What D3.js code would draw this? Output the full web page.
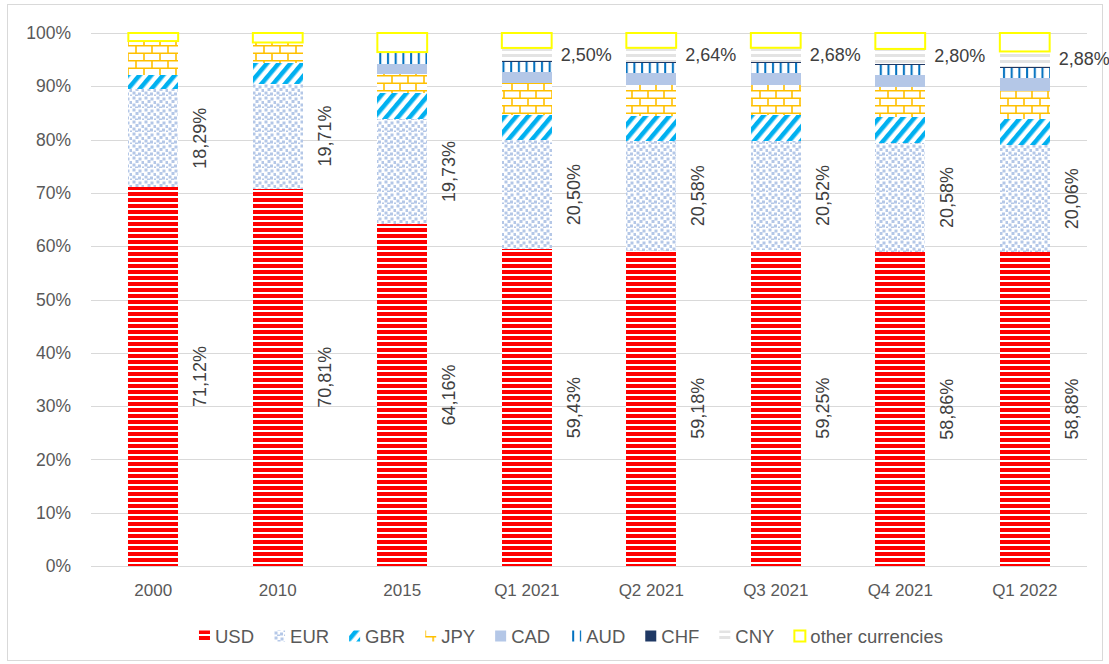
<!DOCTYPE html>
<html>
<head>
<meta charset="utf-8">
<script src="https://cdn.jsdelivr.net/npm/d3@7"></script>
<style>
  html, body { margin: 0; padding: 0; background: #ffffff; }
  svg { display: block; font-family: "Liberation Sans", Arial, sans-serif; }
</style>
</head>
<body>
<svg id="chart" width="1109" height="664"></svg>
<script>
// ---------- DATA ----------
const categories = ["2000", "2010", "2015", "Q1 2021", "Q2 2021", "Q3 2021", "Q4 2021", "Q1 2022"];
const seriesNames = ["USD", "EUR", "GBR", "JPY", "CAD", "AUD", "CHF", "CNY", "other currencies"];
const usd   = [71.12, 70.81, 64.16, 59.43, 59.18, 59.25, 58.86, 58.88];
const eur   = [18.29, 19.71, 19.73, 20.50, 20.58, 20.52, 20.58, 20.06];
const gbr   = [2.75, 3.90, 4.88, 4.70, 4.75, 4.80, 4.80, 4.95];
const jpy   = [6.06, 3.70, 3.62, 5.90, 5.80, 5.70, 5.55, 5.20];
const cad   = [0, 0, 1.85, 2.20, 2.25, 2.25, 2.40, 2.40];
const aud   = [0, 0, 1.98, 1.80, 1.85, 1.85, 1.85, 2.00];
const chf   = [0.27, 0.10, 0.20, 0.17, 0.17, 0.18, 0.17, 0.17];
const cny   = [0, 0, 0, 2.50, 2.64, 2.68, 2.80, 2.88];
const other = [1.51, 1.78, 3.58, 2.80, 2.78, 2.77, 2.99, 3.46];
const yTicks = [0, 10, 20, 30, 40, 50, 60, 70, 80, 90, 100];
const labelledSeries = ["USD", "EUR"];      // vertical labels
const labelledSideSeries = ["CNY"];         // horizontal labels (where > 0)

const seriesValues = [usd, eur, gbr, jpy, cad, aud, chf, cny, other];
const rows = categories.map((c, i) => {
  const r = { cat: c };
  seriesNames.forEach((s, k) => r[s] = seriesValues[k][i]);
  return r;
});

// ---------- SETUP ----------
const svg = d3.select("#chart");
const plot = { left: 91, right: 1087, top: 33, bottom: 566 };

svg.append("rect").attr("x", 7.5).attr("y", 4.5).attr("width", 1095).attr("height", 656)
  .attr("fill", "#fff").attr("stroke", "#d9d9d9").attr("stroke-width", 1);

const x = d3.scaleBand().domain(categories).range([plot.left, plot.right])
  .paddingInner(0.6).paddingOuter(0.3);
const y = d3.scaleLinear().domain([0, 100]).range([plot.bottom, plot.top]);

// ---------- PATTERNS ----------
const defs = svg.append("defs");
function pat(id, w, h) {
  const p = defs.append("pattern").attr("id", id).attr("patternUnits", "userSpaceOnUse")
    .attr("width", w).attr("height", h);
  p.append("rect").attr("width", w).attr("height", h).attr("fill", "#fff");
  return p;
}
// USD red horizontal stripes
let p = pat("pUSD", 6, 6);
p.append("rect").attr("x", 0).attr("y", 0).attr("width", 6).attr("height", 4).attr("fill", "#ff0000");
// EUR confetti
p = pat("pEUR", 12, 12);
[[0.5,0.5],[6.5,1.5],[3.5,4],[9.5,5],[0.5,7.5],[6,8.5],[3,10.5],[10,10.5]].forEach(([a,b]) =>
  p.append("rect").attr("x", a).attr("y", b).attr("width", 3).attr("height", 3).attr("fill", "#b4c7e7"));
// GBR wide diagonal
p = defs.append("pattern").attr("id", "pGBR").attr("patternUnits", "userSpaceOnUse")
  .attr("width", 9).attr("height", 9).attr("patternTransform", "rotate(40)");
p.append("rect").attr("width", 9).attr("height", 9).attr("fill", "#fff");
p.append("rect").attr("x", 0).attr("y", 0).attr("width", 4.5).attr("height", 9).attr("fill", "#00b0f0");
// JPY brick
p = pat("pJPY", 16, 15);
p.append("path").attr("d", "M0,0.75H16M0,8.25H16M8,0.75V8.25M0,8.25V15M16,8.25V15")
  .attr("stroke", "#ffc000").attr("stroke-width", 1.6).attr("fill", "none");
// AUD vertical lines
p = pat("pAUD", 7.7, 8);
p.append("rect").attr("x", 2).attr("y", 0).attr("width", 2).attr("height", 8).attr("fill", "#0070c0");
// CNY light horizontal lines
p = pat("pCNY", 6, 6);
p.append("rect").attr("x", 0).attr("y", 0).attr("width", 6).attr("height", 3).attr("fill", "#e3e3e3");

const fills = {
  "USD": "url(#pUSD)", "EUR": "url(#pEUR)", "GBR": "url(#pGBR)", "JPY": "url(#pJPY)",
  "CAD": "#b4c7e7", "AUD": "url(#pAUD)", "CHF": "#1f3864", "CNY": "url(#pCNY)", "other currencies": "#ffffff"
};

// ---------- GRID ----------
const grid = svg.append("g");
grid.selectAll("line").data(yTicks).join("line")
  .attr("x1", plot.left).attr("x2", plot.right)
  .attr("y1", d => Math.round(y(d)) + 0.5).attr("y2", d => Math.round(y(d)) + 0.5)
  .attr("stroke", "#d9d9d9").attr("stroke-width", 1);

// Y axis labels
const yAxis = d3.axisLeft(y).tickValues(yTicks).tickFormat(d => d + "%").tickSize(0).tickPadding(0);
const gy = svg.append("g").attr("transform", "translate(71,0)").call(yAxis);
gy.select(".domain").remove();
gy.selectAll("text").attr("font-size", 17.5).attr("fill", "#595959")
  .attr("font-family", "Liberation Sans, Arial, sans-serif");

// X axis labels
const xAxis = d3.axisBottom(x).tickSize(0).tickPadding(0);
const gx = svg.append("g").attr("transform", "translate(0,584)").call(xAxis);
gx.select(".domain").remove();
gx.selectAll("text").attr("font-size", 17).attr("fill", "#595959")
  .attr("font-family", "Liberation Sans, Arial, sans-serif");

// ---------- BARS ----------
const stacked = d3.stack().keys(seriesNames)(rows);
const bars = svg.append("g");
stacked.forEach(layer => {
  const key = layer.key;
  bars.append("g").selectAll("rect").data(layer).join("rect")
    .attr("x", d => x(d.data.cat))
    .attr("width", x.bandwidth())
    .attr("y", d => y(d[1]))
    .attr("height", d => Math.max(0, y(d[0]) - y(d[1])))
    .attr("fill", fills[key])
    .attr("stroke", key === "other currencies" ? "#ffff00" : "none")
    .attr("stroke-width", key === "other currencies" ? 2 : 0)
    .attr("shape-rendering", key === "other currencies" ? "auto" : "crispEdges");
});

// ---------- DATA LABELS ----------
const fmt = v => d3.format(".2f")(v).replace(".", ",") + "%";
const lab = svg.append("g").attr("fill", "#404040").attr("font-size", 18);
stacked.filter(l => labelledSeries.includes(l.key)).forEach(layer => {
  lab.append("g").selectAll("text").data(layer).join("text")
    .attr("transform", d => {
      const cx = x(d.data.cat) + x.bandwidth() + 22;
      const cy = y((d[0] + d[1]) / 2);
      return `translate(${cx},${cy}) rotate(-90)`;
    })
    .attr("text-anchor", "middle").attr("dominant-baseline", "central")
    .text(d => fmt(d[1] - d[0]));
});
stacked.filter(l => labelledSideSeries.includes(l.key)).forEach(layer => {
  lab.append("g").selectAll("text").data(layer.filter(d => d[1] - d[0] > 0)).join("text")
    .attr("x", d => x(d.data.cat) + x.bandwidth() + 9)
    .attr("y", d => y((d[0] + d[1]) / 2))
    .attr("text-anchor", "start").attr("dominant-baseline", "central")
    .text(d => fmt(d[1] - d[0]));
});

// ---------- LEGEND ----------
const leg = svg.append("g").attr("transform", "translate(0,636)");
const items = leg.selectAll("g").data(seriesNames).join("g");
items.append("rect")
  .attr("y", -5.5).attr("width", 11).attr("height", 11)
  .attr("fill", d => fills[d])
  .attr("stroke", d => d === "other currencies" ? "#ffff00" : "none")
  .attr("stroke-width", 2);
items.append("text").attr("x", 16).attr("dominant-baseline", "central")
  .attr("font-size", 18.5).attr("fill", "#595959").text(d => d);
const widths = [];
items.each(function() { widths.push(16 + d3.select(this).select("text").node().getComputedTextLength()); });
const gap = 20;
const total = d3.sum(widths) + gap * (widths.length - 1);
let cur = 571 - total / 2;
items.attr("transform", (d, i) => { const t = `translate(${cur},0)`; cur += widths[i] + gap; return t; });
</script>
</body>
</html>
